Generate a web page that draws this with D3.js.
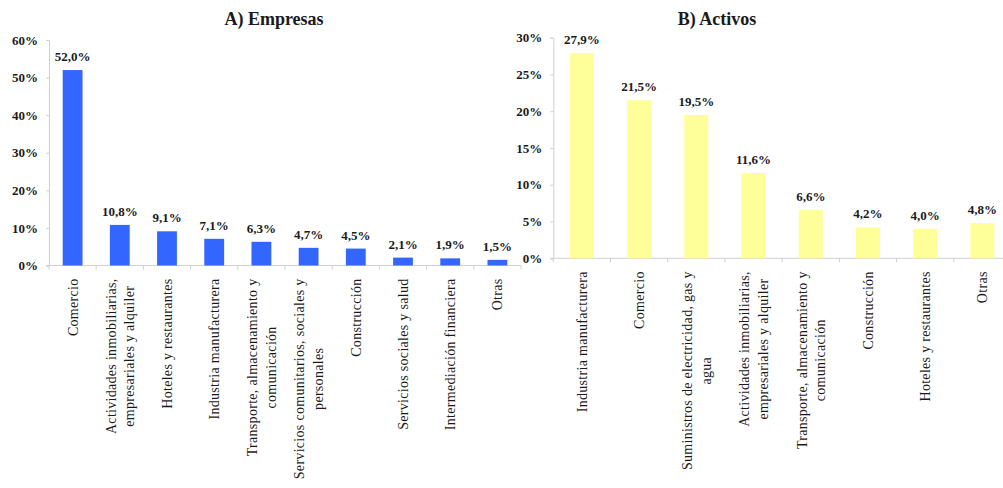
<!DOCTYPE html>
<html>
<head>
<meta charset="utf-8">
<script src="https://cdn.jsdelivr.net/npm/d3@7"></script>
<style>
  body { margin: 0; background: #fff; }
  svg { display: block; }
  text { font-family: "Liberation Serif", "Times New Roman", serif; fill: #1a1a1a; }
</style>
</head>
<body>
<div id="chart"></div>
<script>
// Panel A data
const empresasCategories = [
  ["Comercio"],
  ["Actividades inmobiliarias,", "empresariales y alquiler"],
  ["Hoteles y restaurantes"],
  ["Industria manufacturera"],
  ["Transporte, almacenamiento y", "comunicación"],
  ["Servicios comunitarios, sociales y", "personales"],
  ["Construcción"],
  ["Servicios sociales y salud"],
  ["Intermediación financiera"],
  ["Otras"]
];
const empresasValues = [52.0, 10.8, 9.1, 7.1, 6.3, 4.7, 4.5, 2.1, 1.9, 1.5];
const empresasTicks = [0, 10, 20, 30, 40, 50, 60];

// Panel B data
const activosCategories = [
  ["Industria manufacturera"],
  ["Comercio"],
  ["Suministros de electricidad, gas y", "agua"],
  ["Actividades inmobiliarias,", "empresariales y alquiler"],
  ["Transporte, almacenamiento y", "comunicación"],
  ["Construcción"],
  ["Hoteles y restaurantes"],
  ["Otras"]
];
const activosValues = [27.9, 21.5, 19.5, 11.6, 6.6, 4.2, 4.0, 4.8];
const activosTicks = [0, 5, 10, 15, 20, 25, 30];

const width = 1003;
const height = 488;
const axisColor = "#d0d0d0";
const pct = (v) => d3.format(".1f")(v).replace(".", ",") + "%";

const svg = d3.select("#chart").append("svg").attr("width", width).attr("height", height);

drawPanel({
  title: "A) Empresas", titleX: 274,
  categories: empresasCategories, values: empresasValues, ticks: empresasTicks,
  left: 49, right: 521, top: 40, bottom: 265.5, color: "#3366ff"
});

drawPanel({
  title: "B) Activos", titleX: 717,
  categories: activosCategories, values: activosValues, ticks: activosTicks,
  left: 553.3, right: 1011, top: 37.7, bottom: 258.3, color: "#ffff99"
});

function drawPanel(p) {
  const g = svg.append("g");
  const x = d3.scaleBand().domain(d3.range(p.values.length)).range([p.left, p.right]).padding(0);
  const y = d3.scaleLinear().domain([0, d3.max(p.ticks)]).range([p.bottom, p.top]);
  const barW = x.bandwidth() * 0.42;

  // title
  g.append("text")
    .attr("x", p.titleX).attr("y", 25)
    .attr("text-anchor", "middle")
    .style("font-size", "18px").style("font-weight", "bold")
    .text(p.title);

  // y axis
  const yAxis = g.append("g")
    .attr("transform", `translate(${p.left},0)`)
    .call(d3.axisLeft(y).tickValues(p.ticks).tickFormat((d) => d + "%").tickSize(3).tickPadding(8));
  yAxis.select(".domain").attr("stroke", axisColor);
  yAxis.selectAll(".tick line").attr("stroke", axisColor);
  yAxis.selectAll(".tick text")
    .style("font-size", "13px").style("font-weight", "bold")
    .style("font-family", "Liberation Serif").attr("fill", "#1a1a1a");

  // x axis line and boundary ticks
  g.append("line")
    .attr("x1", p.left - 3).attr("x2", p.right)
    .attr("y1", p.bottom).attr("y2", p.bottom)
    .attr("stroke", axisColor);
  g.selectAll(".xtick")
    .data(d3.range(p.values.length + 1))
    .enter().append("line")
    .attr("x1", (i) => p.left + i * x.step()).attr("x2", (i) => p.left + i * x.step())
    .attr("y1", p.bottom).attr("y2", p.bottom + 4)
    .attr("stroke", axisColor);

  // bars
  g.selectAll(".bar")
    .data(p.values)
    .enter().append("rect")
    .attr("x", (d, i) => x(i) + (x.bandwidth() - barW) / 2)
    .attr("y", (d) => y(d))
    .attr("width", barW)
    .attr("height", (d) => y(0) - y(d))
    .attr("fill", p.color);

  // value labels
  g.selectAll(".val")
    .data(p.values)
    .enter().append("text")
    .attr("x", (d, i) => x(i) + x.bandwidth() / 2)
    .attr("y", (d) => y(d) - 9)
    .attr("text-anchor", "middle")
    .style("font-size", "13px").style("font-weight", "bold")
    .text((d) => pct(d));

  // category labels, rotated
  const lineH = 18.5;
  p.categories.forEach((lines, i) => {
    const cx = x(i) + x.bandwidth() / 2;
    lines.forEach((line, j) => {
      const off = (j - (lines.length - 1) / 2) * lineH;
      g.append("text")
        .attr("transform", `translate(${cx + off + 5},${p.bottom + 13}) rotate(-90)`)
        .attr("text-anchor", lines.length > 1 ? "middle" : "end")
        .attr("dx", lines.length > 1 ? -lineLen(lines) / 2 : 0)
        .style("font-size", "14px")
        .style("letter-spacing", "0.3px")
        .text(line);
    });
  });
}

// length of the longest line in a label, estimated from a hidden measurement
function lineLen(lines) {
  const t = svg.append("text").style("font-size", "14px").style("letter-spacing", "0.3px");
  const w = d3.max(lines, (l) => { t.text(l); return t.node().getComputedTextLength(); });
  t.remove();
  return w;
}
</script>
</body>
</html>
